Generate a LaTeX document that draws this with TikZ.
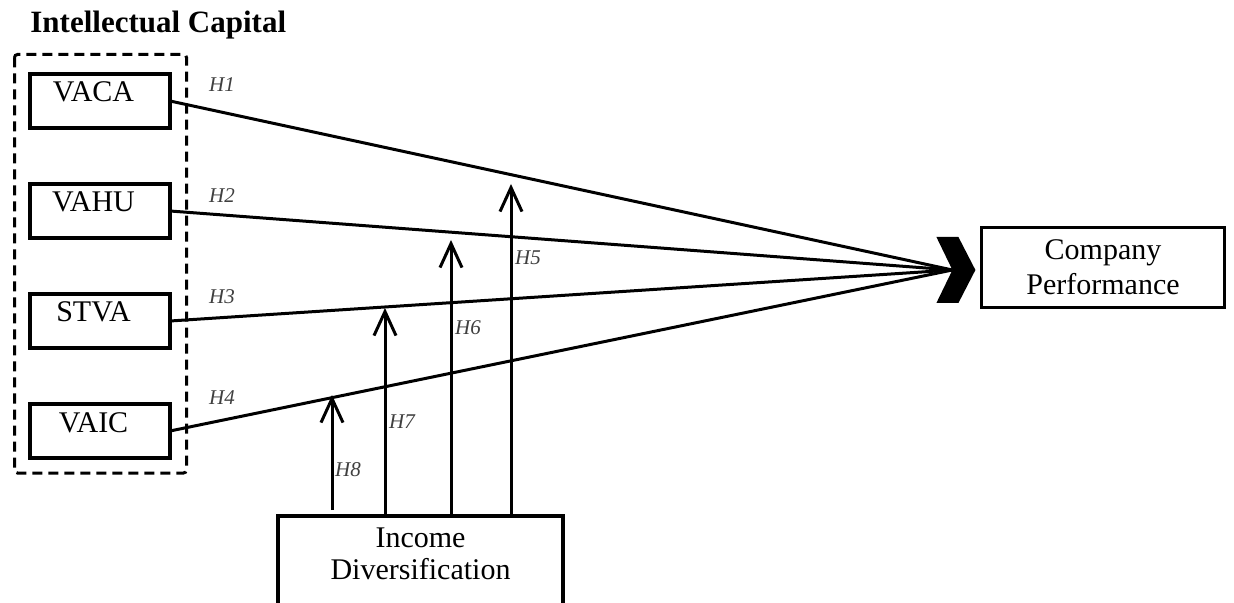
\documentclass[tikz,border=0pt]{standalone}
\usepackage{fontspec}
\setmainfont{Liberation Serif}
\usetikzlibrary{arrows.meta,positioning,calc}
\tikzset{
  bloco/.style={rectangle,draw=black,line width=2pt,outer sep=0pt,minimum width=70pt,minimum height=27pt,inner ysep=3pt,text height=11pt,text depth=10pt,font=\fontsize{15}{18}\selectfont,execute at begin node={\hspace*{-6.5pt}}},
  blocoD/.style={rectangle,draw=black,line width=1.6pt,minimum width=121.5pt,minimum height=40pt,align=center,font=\fontsize{15}{17.5}\selectfont},
  blocoM/.style={rectangle,draw=black,line width=2pt,minimum width=142.5pt,align=center,inner ysep=5.6pt,text height=26pt,text depth=40pt,font=\fontsize{15}{16}\selectfont},
  ligacao/.style={line width=1.5pt,black},
  seta/.style={-{Straight Barb[length=12pt,width=11pt]},line width=1.5pt,black},
  tracejado/.style={line width=1.5pt,dash pattern=on 5pt off 3pt,rounded corners=1.5pt},
  rotulo/.style={font=\fontsize{10.5}{12}\selectfont\itshape,text=black!75,inner sep=0pt},
  titulo/.style={font=\fontsize{15.5}{18}\selectfont\bfseries,inner sep=0pt},
}

\begin{document}
\begin{tikzpicture}[x=0.5pt,y=-0.5pt,node distance=28pt]
\useasboundingbox (0,0) rectangle (1234,603);
% capital intelectual
\node[titulo,anchor=base west] (tit) at (30,33) {Intellectual Capital};
\node[bloco] (v1) at (100,101) {VACA};
\node[bloco,below=of v1] (v2) {VAHU};
\node[bloco,below=of v2] (v3) {STVA};
\node[bloco,below=of v3] (v4) {VAIC};
\draw[tracejado] ($(v1.north west)+(-15.5,-19.5)$) rectangle ($(v4.south east)+(16.5,15)$);
% desempenho
\node[blocoD] (cp) at (1103,267.5) {Company\\Performance};
\coordinate (hub) at ($(cp.west)+(-27.5,2.5)$);
\draw[ligacao] (v1.east) -- (hub);
\draw[ligacao] (v2.east) -- (hub);
\draw[ligacao] (v3.east) -- (hub);
\draw[ligacao] (v4.east) -- (hub);
\fill (hub) -- ++(-16,-33) -- ++(22,0) -- ++(17,33) -- ++(-17,33) -- ++(-22,0) -- cycle;
\node[rotulo] (h1) at (222,85) {H1};
\node[rotulo] (h2) at (222,196) {H2};
\node[rotulo] (h3) at (222,297) {H3};
\node[rotulo] (h4) at (222,398) {H4};
% moderacao
\node[blocoM,anchor=north] (id) at (420.5,514) {Income\\Diversification};
\coordinate (m5) at (511,184);
\coordinate (m6) at (451,240);
\coordinate (m7) at (385,308);
\coordinate (m8) at (332,395);
\draw[seta] (id.north -| m5) -- (m5);
\draw[seta] (id.north -| m6) -- (m6);
\draw[seta] (id.north -| m7) -- (m7);
\draw[seta,shorten <=2pt] (id.north -| m8) -- (m8);
\node[rotulo] (h5) at (528,258) {H5};
\node[rotulo] (h6) at (468,328) {H6};
\node[rotulo] (h7) at (402,422) {H7};
\node[rotulo] (h8) at (348,470) {H8};
\end{tikzpicture}
\end{document}
